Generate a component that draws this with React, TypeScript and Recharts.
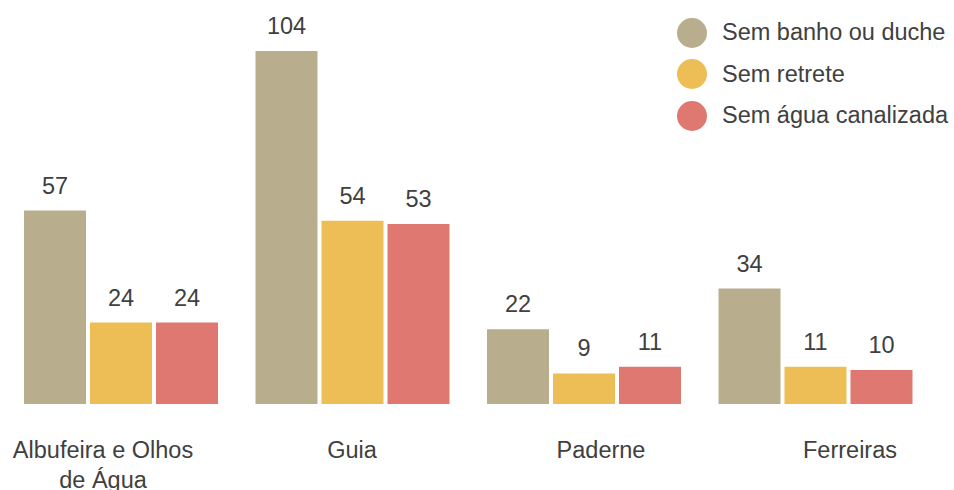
import { Bar, BarChart, LabelList, XAxis, YAxis } from "recharts";

const regions = ["Albufeira e Olhos de Água", "Guia", "Paderne", "Ferreiras"];
const semBanho = [57, 104, 22, 34];
const semRetrete = [24, 54, 9, 11];
const semAgua = [24, 53, 11, 10];

const seriesNames = ["Sem banho ou duche", "Sem retrete", "Sem água canalizada"];
const seriesKeys = ["banho", "retrete", "agua"];
const seriesColors = ["#B8AD8C", "#EDBE56", "#DF7870"];

const FONT = "Arial, 'Liberation Sans', sans-serif";
const TEXT = "#404040";
const FS = 23.5;

const chartData = regions.map((name, i) => ({
  name,
  banho: semBanho[i],
  retrete: semRetrete[i],
  agua: semAgua[i],
}));

// naive word wrap, Arial-ish average char width
const wrap = (label: string, maxWidth: number) => {
  const words = label.split(" ");
  const lines: string[] = [];
  let cur = "";
  words.forEach((w) => {
    const next = cur ? cur + " " + w : w;
    if (next.length * FS * 0.52 > maxWidth && cur) {
      lines.push(cur);
      cur = w;
    } else {
      cur = next;
    }
  });
  if (cur) lines.push(cur);
  return lines;
};

const WrappedTick = (props: any) => {
  const { x, y, payload } = props;
  const lines = wrap(String(payload.value), 215);
  return (
    <text x={x} y={y} textAnchor="middle" fill={TEXT} fontSize={FS} fontFamily={FONT}>
      {lines.map((l, i) => (
        <tspan key={i} x={x} dy={i === 0 ? 24 : 30}>
          {l}
        </tspan>
      ))}
    </text>
  );
};

const App = () => {
  return (
    <div style={{ position: "absolute", left: 0, top: 0, width: 954, height: 490, background: "#fff" }}>
      <BarChart
        width={954}
        height={490}
        data={chartData}
        margin={{ top: 51, right: 23, left: 5, bottom: 0 }}
        barSize={62}
        barGap={4}
      >
        <XAxis xAxisId="bars" dataKey="name" hide />
        <XAxis
          xAxisId="labels"
          dataKey="name"
          axisLine={false}
          tickLine={false}
          tickSize={0}
          tickMargin={0}
          height={86}
          interval={0}
          padding={{ left: -26.5, right: -43.5 }}
          tick={<WrappedTick />}
        />
        <YAxis hide domain={[0, 104]} />
        {seriesKeys.map((k, i) => (
          <Bar
            key={k}
            xAxisId="bars"
            dataKey={k}
            name={seriesNames[i]}
            fill={seriesColors[i]}
            isAnimationActive={false}
          >
            <LabelList
              dataKey={k}
              position="top"
              offset={17}
              fill={TEXT}
              fontSize={FS}
              fontFamily={FONT}
            />
          </Bar>
        ))}
      </BarChart>
      <div style={{ position: "absolute", left: 677, top: 12, fontFamily: FONT, fontSize: FS, color: TEXT }}>
        {seriesNames.map((n, i) => (
          <div key={n} style={{ display: "flex", alignItems: "center", height: 41.5 }}>
            <span
              style={{
                display: "inline-block",
                width: 30,
                height: 30,
                borderRadius: "50%",
                background: seriesColors[i],
                marginRight: 15,
              }}
            />
            <span>{n}</span>
          </div>
        ))}
      </div>
    </div>
  );
};

export default App;
